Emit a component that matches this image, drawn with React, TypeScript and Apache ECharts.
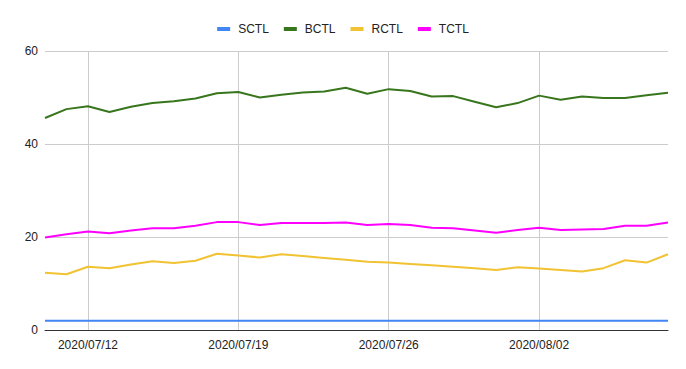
import React, { useEffect, useRef } from "react";
import * as echarts from "echarts";

const dates = [
  "2020/07/10", "2020/07/11", "2020/07/12", "2020/07/13", "2020/07/14", "2020/07/15",
  "2020/07/16", "2020/07/17", "2020/07/18", "2020/07/19", "2020/07/20", "2020/07/21",
  "2020/07/22", "2020/07/23", "2020/07/24", "2020/07/25", "2020/07/26", "2020/07/27",
  "2020/07/28", "2020/07/29", "2020/07/30", "2020/07/31", "2020/08/01", "2020/08/02",
  "2020/08/03", "2020/08/04", "2020/08/05", "2020/08/06", "2020/08/07", "2020/08/08",
];

const sctl = [
  2, 2, 2, 2, 2, 2, 2, 2, 2, 2, 2, 2, 2, 2, 2, 2, 2, 2, 2, 2, 2, 2, 2, 2, 2, 2, 2, 2, 2, 2,
];
const bctl = [
  45.6, 47.5, 48.1, 46.9, 48.0, 48.8, 49.2, 49.8, 50.9, 51.2, 50.0, 50.6, 51.1, 51.3, 52.1,
  50.8, 51.8, 51.4, 50.2, 50.3, 49.1, 47.9, 48.8, 50.4, 49.5, 50.2, 49.9, 49.9, 50.5, 51.0,
];
const rctl = [
  12.3, 12.0, 13.6, 13.3, 14.1, 14.8, 14.4, 14.9, 16.4, 16.0, 15.6, 16.3, 15.9, 15.5, 15.1,
  14.7, 14.5, 14.2, 13.9, 13.6, 13.3, 12.9, 13.5, 13.2, 12.9, 12.6, 13.3, 15.0, 14.5, 16.3,
];
const tctl = [
  19.9, 20.6, 21.2, 20.8, 21.4, 21.9, 21.9, 22.4, 23.2, 23.2, 22.6, 23.0, 23.0, 23.0, 23.1,
  22.6, 22.8, 22.6, 22.0, 21.9, 21.4, 20.9, 21.5, 22.0, 21.5, 21.6, 21.7, 22.4, 22.4, 23.1,
];

const seriesNames = ["SCTL", "BCTL", "RCTL", "TCTL"];
const seriesColors = ["#4285F4", "#38761D", "#F1C232", "#FF00FF"];
const seriesData = [sctl, bctl, rctl, tctl];

const showIdx = (idx: number) => (idx - 2) % 7 === 0 && idx >= 2;

export default function App() {
  const ref = useRef<HTMLDivElement>(null);
  useEffect(() => {
    if (!ref.current) return;
    const chart = echarts.init(ref.current, undefined, { renderer: "svg" });
    chart.setOption({
      animation: false,
      backgroundColor: "#ffffff",
      textStyle: { fontFamily: "Liberation Sans, Arial, sans-serif" },
      legend: {
        top: 18,
        left: "center",
        itemWidth: 13,
        itemHeight: 4,
        itemGap: 15,
        icon: "rect",
        textStyle: {
          fontSize: 12,
          color: "#222222",
          padding: [0, 0, 0, 3],
          fontFamily: "Liberation Sans, Arial, sans-serif",
        },
        data: seriesNames,
      },
      grid: { left: 45, right: 18, top: 51, bottom: 39, containLabel: false },
      xAxis: {
        type: "category",
        data: dates,
        boundaryGap: false,
        axisLine: { show: true, lineStyle: { color: "#333333", width: 1 } },
        axisTick: { show: false },
        axisLabel: {
          interval: (idx: number) => showIdx(idx),
          color: "#222222",
          fontSize: 12,
          margin: 9,
          fontFamily: "Liberation Sans, Arial, sans-serif",
        },
        splitLine: {
          show: true,
          interval: (idx: number) => showIdx(idx),
          lineStyle: { color: "#cccccc", width: 1 },
        },
      },
      yAxis: {
        type: "value",
        min: 0,
        max: 60,
        interval: 20,
        axisLine: { show: false },
        axisTick: { show: false },
        axisLabel: {
          color: "#222222",
          fontSize: 12,
          margin: 7,
          fontFamily: "Liberation Sans, Arial, sans-serif",
        },
        splitLine: { show: true, lineStyle: { color: "#cccccc", width: 1 } },
      },
      series: seriesNames.map((name, i) => ({
        name,
        type: "line",
        data: seriesData[i],
        symbol: "none",
        showSymbol: false,
        lineStyle: { width: 2, color: seriesColors[i] },
        itemStyle: { color: seriesColors[i] },
        z: 3,
      })),
    });
    return () => chart.dispose();
  }, []);
  return <div ref={ref} style={{ width: 686, height: 369, position: "absolute", left: 0, top: 0 }} />;
}
